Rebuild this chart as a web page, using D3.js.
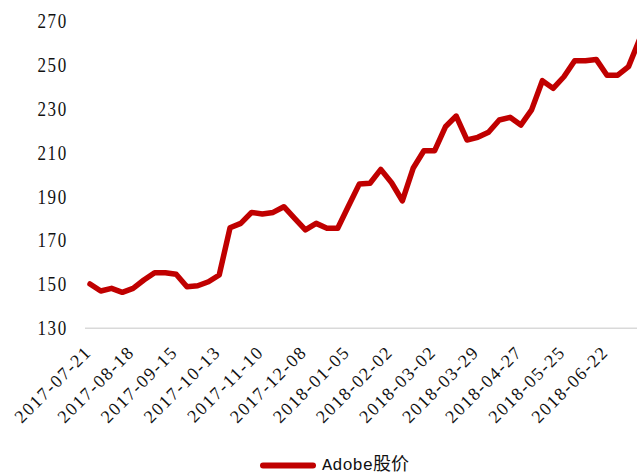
<!DOCTYPE html>
<html><head><meta charset="utf-8">
<script src="https://cdn.jsdelivr.net/npm/d3@7"></script>
<style>body{margin:0;background:#fff}svg{display:block}</style>
</head><body>
<svg id="c" width="637" height="476"></svg>
<script>
const dates = ["2017-07-21","2017-07-28","2017-08-04","2017-08-11","2017-08-18","2017-08-25","2017-09-01","2017-09-08","2017-09-15","2017-09-22","2017-09-29","2017-10-06","2017-10-13","2017-10-20","2017-10-27","2017-11-03","2017-11-10","2017-11-17","2017-11-24","2017-12-01","2017-12-08","2017-12-15","2017-12-22","2017-12-29","2018-01-05","2018-01-12","2018-01-19","2018-01-26","2018-02-02","2018-02-09","2018-02-16","2018-02-23","2018-03-02","2018-03-09","2018-03-16","2018-03-23","2018-03-29","2018-04-06","2018-04-13","2018-04-20","2018-04-27","2018-05-04","2018-05-11","2018-05-18","2018-05-25","2018-06-01","2018-06-08","2018-06-15","2018-06-22","2018-06-29","2018-07-06","2018-07-13"];
const prices = [150.2,147.0,148.2,146.4,148.2,152.0,155.3,155.3,154.6,148.9,149.4,151.2,154.3,175.8,177.8,182.8,182.1,182.8,185.4,180.1,174.8,177.8,175.6,175.6,185.7,195.7,196.1,202.4,196.3,188.1,202.9,210.9,210.9,221.8,226.7,215.8,217.0,219.3,224.9,226.1,222.6,229.5,242.8,239.3,244.6,251.9,251.9,252.5,245.3,245.3,249.2,261.3];
const xTickLabels = dates.filter((d,i)=>i%4===0);
const yTicks = [130,150,170,190,210,230,250,270];
const seriesName = "Adobe股价";

const svg = d3.select("#c");
const x = d3.scalePoint().domain(dates).range([90, 639.3]);
const y = d3.scaleLinear().domain([130,270]).range([328.3, 21]);

// baseline grid at 130
svg.append("line").attr("x1",85).attr("x2",637).attr("y1",y(130)).attr("y2",y(130))
  .attr("stroke","#d9d9d9").attr("stroke-width",1.5);

// y axis labels
const ya = svg.append("g").attr("transform","translate(68,0)")
  .call(d3.axisLeft(y).tickValues(yTicks).tickSize(0).tickPadding(0));
ya.select(".domain").remove();
ya.selectAll("text").attr("font-family","Liberation Serif").attr("font-size",20)
  .attr("fill","#111").attr("letter-spacing","2px")
  .attr("transform","scale(0.85,1)").attr("x",0);

// x axis labels
const xa = svg.append("g").attr("transform",`translate(0,${y(130)})`)
  .call(d3.axisBottom(x).tickValues(xTickLabels).tickSize(0));
xa.select(".domain").remove();
xa.selectAll("text").attr("font-family","Liberation Serif").attr("font-size",18)
  .attr("fill","#111").attr("letter-spacing","1.6px")
  .attr("text-anchor","end").attr("dy",0).attr("y",0)
  .attr("transform","translate(2,25) rotate(-45)");

// line
const line = d3.line().x((d,i)=>x(dates[i])).y(d=>y(d));
svg.append("path").datum(prices).attr("d",line).attr("fill","none")
  .attr("stroke","#c00000").attr("stroke-width",5.5).attr("stroke-linejoin","round").attr("stroke-linecap","round");

// legend
svg.append("line").attr("x1",263).attr("x2",313).attr("y1",465.5).attr("y2",465.5)
  .attr("stroke","#c00000").attr("stroke-width",6).attr("stroke-linecap","round");
const lt = svg.append("text").attr("x",322).attr("y",470).attr("fill","#111");
lt.append("tspan").attr("font-family","Liberation Mono").attr("font-size",17).text(seriesName.slice(0,5));
lt.append("tspan").attr("font-family","Noto Sans CJK SC").attr("font-size",18).text(seriesName.slice(5));
</script>
</body></html>
